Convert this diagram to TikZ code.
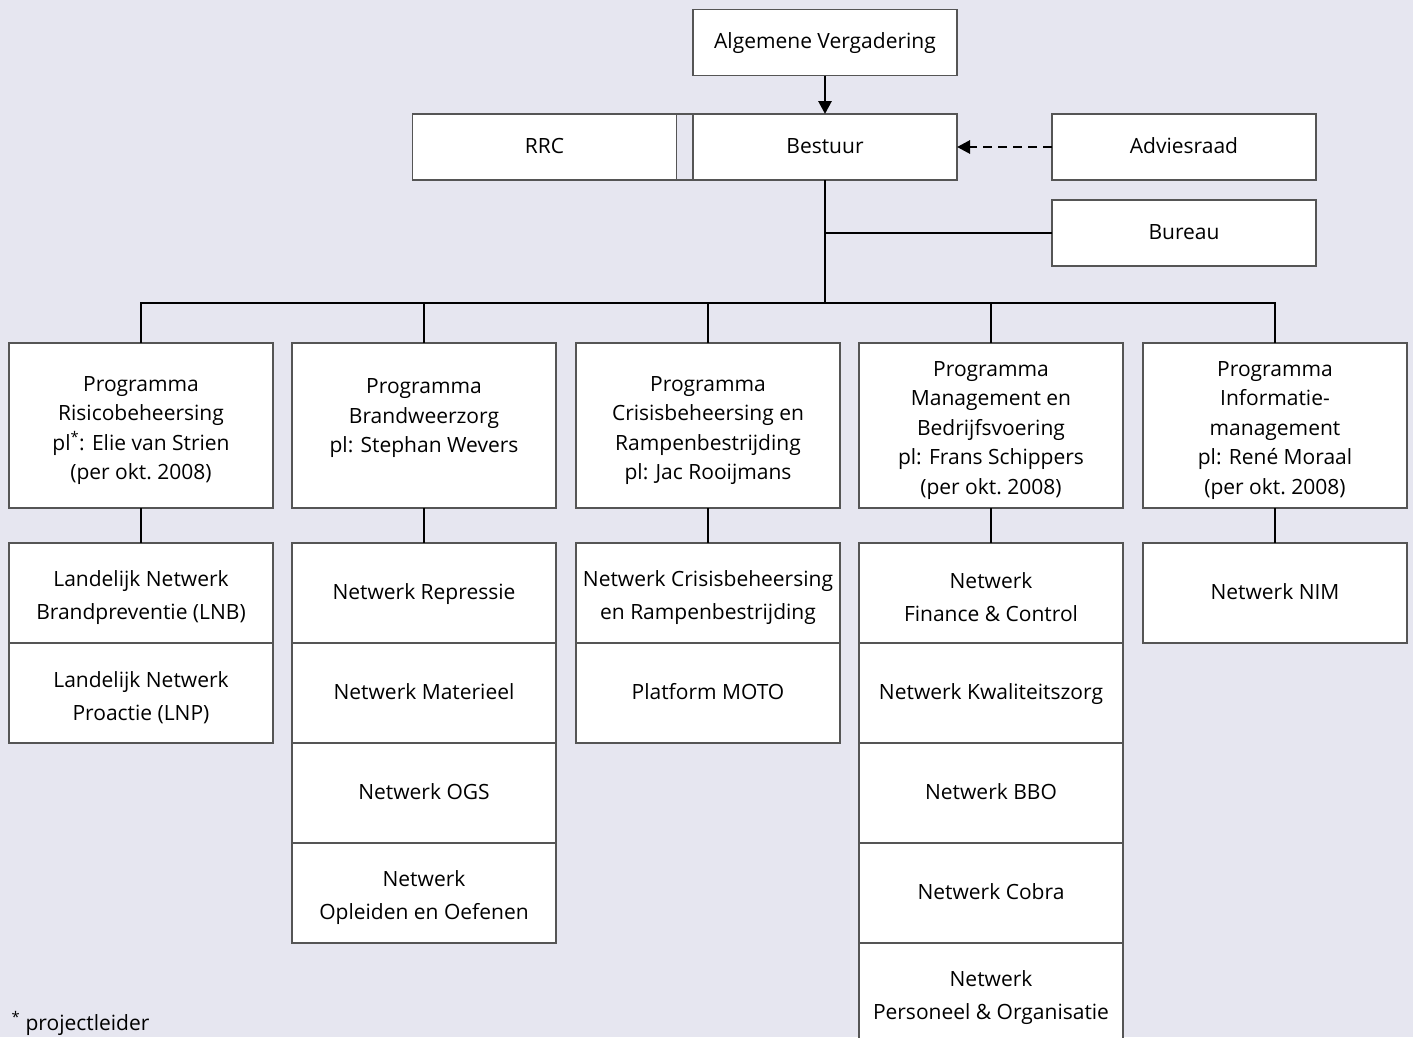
\documentclass[tikz,border=0pt]{standalone}
\usepackage{fontspec}
\setmainfont{Open Sans}
\usetikzlibrary{positioning,arrows.meta}

\definecolor{bgpaper}{RGB}{230,230,240}
\definecolor{boxline}{RGB}{85,85,85}
\newcommand{\topstrut}{\rule{0pt}{25pt}}
\newcommand{\linestrut}{\rule[-6pt]{0pt}{24.5pt}}

\begin{document}
\begin{tikzpicture}[
    x=1pt, y=-1pt,
    font=\fontsize{21}{29.5}\selectfont,
    >=Stealth,
    orgbox/.style={
        draw=boxline,
        fill=white,
        line width=1.2pt,
        align=center,
        inner sep=0pt,
        outer sep=0pt,
        minimum width=264pt,
        minimum height=66pt
    },
    progbox/.style={orgbox, minimum height=165pt},
    netbox/.style={orgbox, minimum height=100pt,
        font=\fontsize{21}{33}\selectfont},
    link/.style={line width=2.8pt, draw=black},
    bigarrow/.style={link, -{Triangle[length=13pt,width=13pt]}}
]
    \fill[bgpaper] (0,0) rectangle (1413,1037);
    \useasboundingbox (0,0) rectangle (1413,1037);

    % top level
    \node[orgbox] (av) at (825,42.5) {\linestrut Algemene Vergadering};
    \node[orgbox] (bestuur) at (825,147) {\linestrut Bestuur};
    \node[orgbox] (rrc) at (544.5,147) {\linestrut RRC};
    \node[orgbox] (advies) at (1184,147) {\linestrut Adviesraad};
    \node[orgbox] (bureau) at (1184,233) {\linestrut Bureau};
    \draw[boxline, line width=1.2pt] (rrc.north east) -- (bestuur.north west)
        (rrc.south east) -- (bestuur.south west);

    \coordinate (bus) at (825,303);

    % programma's
    \node[progbox] (risico) at (141,425.5) {\topstrut Programma\\Risicobeheersing\\pl\textsuperscript{*}: Elie van Strien\\(per okt.~2008)};
    \node[progbox] (brand) at (424,425.5) {\topstrut Programma\\Brandweerzorg\\pl: Stephan Wevers\\~};
    \node[progbox] (crisis) at (708,425.5) {\topstrut Programma\\Crisisbeheersing en\\Rampenbestrijding\\pl: Jac Rooijmans};
    \node[progbox] (mgmt) at (991,425.5) {\topstrut Programma\\Management en\\Bedrijfsvoering\\pl: Frans Schippers\\(per okt.~2008)};
    \node[progbox] (info) at (1275,425.5) {\topstrut Programma\\Informatie-\\management\\pl: René Moraal\\(per okt.~2008)};

    % netwerken
    \node[netbox, below=35pt of risico] (lnb) {\topstrut Landelijk Netwerk\\Brandpreventie (LNB)};
    \node[netbox, below=0pt of lnb] (lnp) {\topstrut Landelijk Netwerk\\Proactie (LNP)};

    \node[netbox, below=35pt of brand] (repressie) {\linestrut Netwerk Repressie};
    \node[netbox, below=0pt of repressie] (materieel) {\linestrut Netwerk Materieel};
    \node[netbox, below=0pt of materieel] (ogs) {\linestrut Netwerk OGS};
    \node[netbox, below=0pt of ogs] (oefenen) {\topstrut Netwerk\\Opleiden en Oefenen};

    \node[netbox, below=35pt of crisis] (ncrisis) {\topstrut Netwerk Crisisbeheersing\\en Rampenbestrijding};
    \node[netbox, below=0pt of ncrisis] (moto) {\linestrut Platform MOTO};

    \node[netbox, below=35pt of mgmt] (finance) {\topstrut Netwerk\\Finance \& Control};
    \node[netbox, below=0pt of finance] (kwaliteit) {\linestrut Netwerk Kwaliteitszorg};
    \node[netbox, below=0pt of kwaliteit] (bbo) {\linestrut Netwerk BBO};
    \node[netbox, below=0pt of bbo] (cobra) {\linestrut Netwerk Cobra};
    \node[netbox, below=0pt of cobra] (personeel) {\topstrut Netwerk\\Personeel \& Organisatie};

    \node[netbox, below=35pt of info] (nim) {\linestrut Netwerk NIM};

    % verbindingen
    \draw[bigarrow] (av) -- (bestuur);
    \draw[link, dashed, dash pattern=on 9pt off 6pt, -{Triangle[length=13pt,width=13pt]}] (advies) -- (bestuur);
    \draw[link] (bestuur) -- (bus);
    \draw[link] (bureau) -- (bestuur.south |- bureau);
    \foreach \prog/\net in {risico/lnb, brand/repressie, crisis/ncrisis, mgmt/finance, info/nim} {
        \draw[link] (\prog) |- (bus);
        \draw[link] (\prog) -- (\net);
    }

    \node[anchor=base west] (voetnoot) at (8,1030) {\textsuperscript{*} projectleider};
\end{tikzpicture}
\end{document}
